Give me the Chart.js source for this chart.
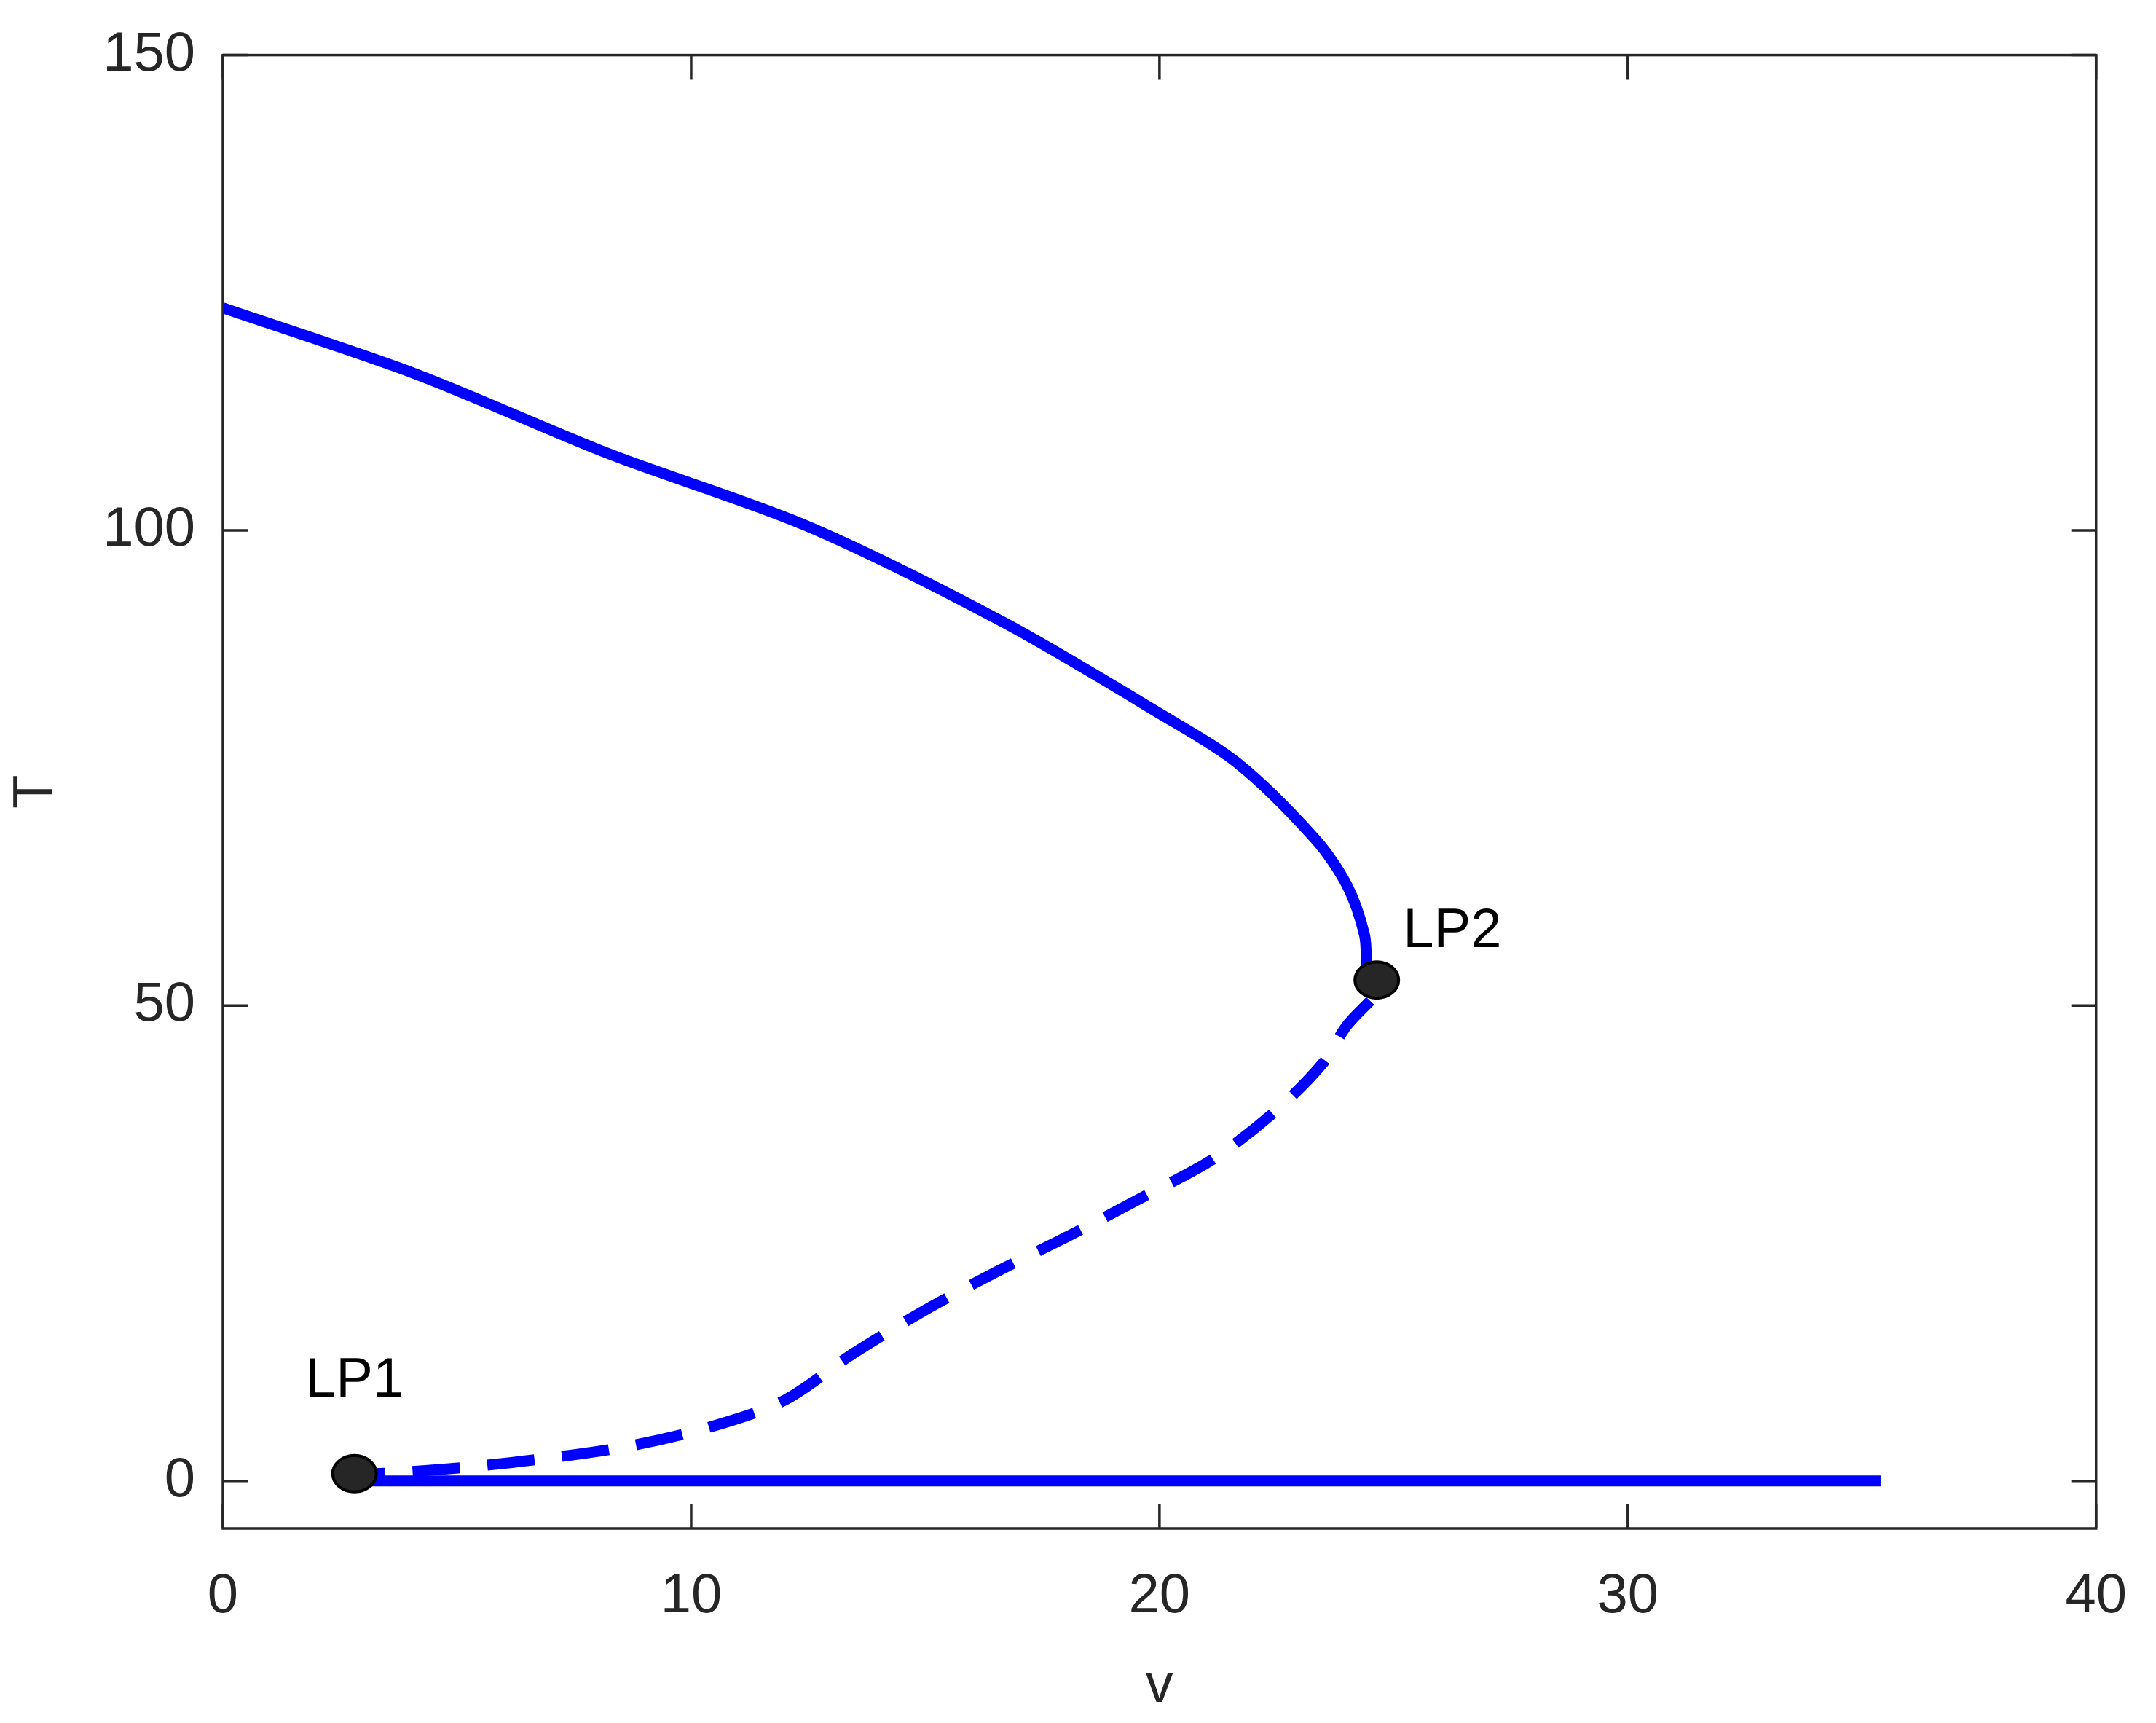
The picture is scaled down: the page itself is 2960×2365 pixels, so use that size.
<!DOCTYPE html>
<html><head><meta charset="utf-8">
<script src="https://cdn.jsdelivr.net/npm/chart.js@4"></script>
<style>html,body{margin:0;padding:0;background:#fff}</style>
</head><body>
<canvas id="c" width="2960" height="2365" style="width:2960px;height:2365px"></canvas>
<script>
// stable upper branch (v, T)
const upperV = [0, 4.09, 8.27, 12.45, 16.64, 19.98, 21.67, 23.33, 24.0, 24.38, 24.43, 24.5];
const upperT = [123.4, 116.5, 108.0, 100.5, 90.4, 80.8, 75.5, 67.5, 62.7, 57.4, 53.7, 52.7];
// unstable middle branch (dashed)
const midV = [24.5, 24.0, 23.5, 22.5, 21.16, 19.66, 18.07, 16.48, 14.97, 13.46, 11.96, 10.28, 8.61, 6.78, 5.1, 3.43, 2.81];
const midT = [50.5, 47.9, 44.0, 39.0, 33.9, 29.9, 25.8, 21.9, 17.9, 13.4, 8.4, 5.5, 3.6, 2.3, 1.4, 0.8, 0.76];
// lower branch
const lowV = [2.81, 35.4];
const lowT = [0, 0];
// limit points
const lpNames = ['LP1', 'LP2'];
const lpV = [2.81, 24.64];
const lpT = [0.76, 52.7];
const xTicks = [0, 10, 20, 30, 40];
const yTicks = [0, 50, 100, 150];

const pts = (xs, ys) => xs.map((x, i) => ({x: x, y: ys[i]}));
const font = {family: 'Liberation Sans, Arial, sans-serif', size: 76};

const frame = {
  id: 'frame',
  afterDraw(chart) {
    const ctx = chart.ctx, a = chart.chartArea, sx = chart.scales.x, sy = chart.scales.y;
    ctx.save();
    ctx.strokeStyle = '#262626'; ctx.lineWidth = 3.5;
    ctx.strokeRect(a.left, a.top, a.right - a.left, a.bottom - a.top);
    const L = 34;
    xTicks.forEach(v => {
      const p = sx.getPixelForValue(v);
      ctx.beginPath(); ctx.moveTo(p, a.bottom); ctx.lineTo(p, a.bottom - L);
      ctx.moveTo(p, a.top); ctx.lineTo(p, a.top + L); ctx.stroke();
    });
    yTicks.forEach(v => {
      const p = sy.getPixelForValue(v);
      ctx.beginPath(); ctx.moveTo(a.left, p); ctx.lineTo(a.left + L, p);
      ctx.moveTo(a.right, p); ctx.lineTo(a.right - L, p); ctx.stroke();
    });
    // limit point markers
    ctx.fillStyle = '#262626'; ctx.strokeStyle = '#000'; ctx.lineWidth = 4;
    lpV.forEach((v, i) => {
      ctx.beginPath();
      ctx.ellipse(sx.getPixelForValue(v), sy.getPixelForValue(lpT[i]), 30, 25, 0, 0, 2 * Math.PI);
      ctx.fill(); ctx.stroke();
    });
    ctx.fillStyle = '#000';
    ctx.font = '76px Liberation Sans, Arial, sans-serif';
    ctx.textBaseline = 'middle';
    ctx.textAlign = 'center';
    ctx.fillText(lpNames[0], sx.getPixelForValue(lpV[0]), sy.getPixelForValue(10.5));
    ctx.textAlign = 'left';
    ctx.fillText(lpNames[1], sx.getPixelForValue(25.2), sy.getPixelForValue(57.8));
    ctx.restore();
  }
};

new Chart(document.getElementById('c'), {
  type: 'scatter',
  data: {
    datasets: [
      {data: pts(upperV, upperT), showLine: true, borderColor: '#0000ff', borderWidth: 15, pointRadius: 0, tension: 0.3},
      {data: pts(midV, midT), showLine: true, borderColor: '#0000ff', borderWidth: 15, borderDash: [65, 38], pointRadius: 0, tension: 0.3},
      {data: pts(lowV, lowT), showLine: true, borderColor: '#0000ff', borderWidth: 15, pointRadius: 0}
    ]
  },
  options: {
    responsive: false, devicePixelRatio: 1, animation: false,
    layout: {padding: {top: 57, right: 62, left: 0, bottom: 0}},
    plugins: {legend: {display: false}, tooltip: {enabled: false}},
    scales: {
      x: {
        min: 0, max: 40,
        afterBuildTicks: s => { s.ticks = xTicks.map(v => ({value: v})); },
        afterFit: s => { s.height = 267; },
        grid: {display: false}, border: {display: false},
        ticks: {font: font, color: '#262626', padding: 40, maxRotation: 0},
        title: {display: true, text: 'v', font: font, color: '#262626', padding: {top: 0}}
      },
      y: {
        min: -5, max: 150,
        afterBuildTicks: s => { s.ticks = yTicks.map(v => ({value: v})); },
        afterFit: s => { s.width = 306; },
        grid: {display: false}, border: {display: false},
        ticks: {font: font, color: '#262626', padding: 30},
        title: {display: true, text: 'T', font: font, color: '#262626', padding: {bottom: 10}}
      }
    }
  },
  plugins: [frame]
});
</script>
</body></html>
